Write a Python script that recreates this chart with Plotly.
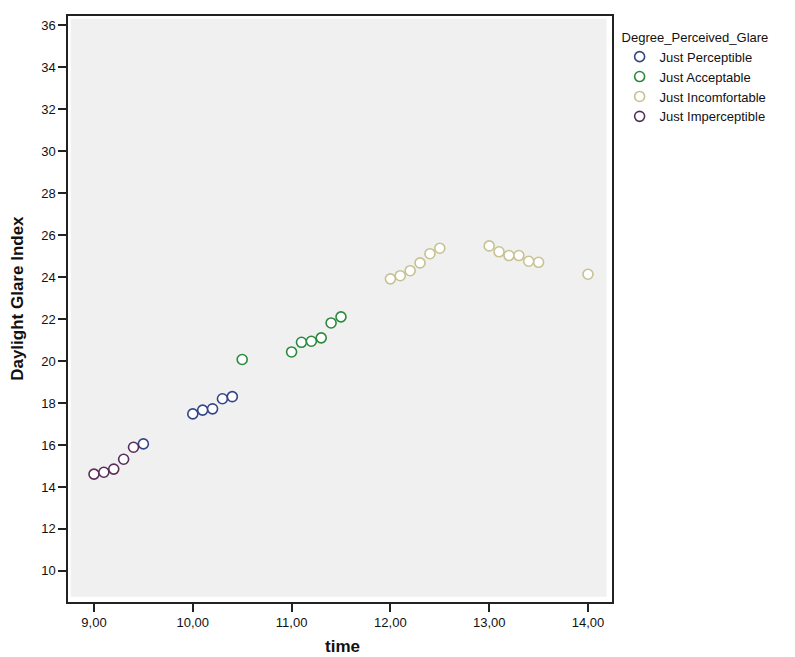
import plotly.graph_objects as go

# data
categories = ["Just Perceptible", "Just Acceptable", "Just Incomfortable", "Just Imperceptible"]

perceptible_time = [9.5, 10.0, 10.1, 10.2, 10.3, 10.4]
perceptible_dgi = [16.05, 17.48, 17.66, 17.72, 18.2, 18.3]

acceptable_time = [10.5, 11.0, 11.1, 11.2, 11.3, 11.4, 11.5]
acceptable_dgi = [20.07, 20.43, 20.89, 20.94, 21.1, 21.81, 22.1]

incomfortable_time = [12.0, 12.1, 12.2, 12.3, 12.4, 12.5, 13.0, 13.1, 13.2, 13.3, 13.4, 13.5, 14.0]
incomfortable_dgi = [23.91, 24.06, 24.3, 24.67, 25.11, 25.37, 25.48, 25.2, 25.02, 25.02, 24.75, 24.7, 24.13]

imperceptible_time = [9.0, 9.1, 9.2, 9.3, 9.4]
imperceptible_dgi = [14.61, 14.7, 14.85, 15.32, 15.89]

colors = ["#34468a", "#2a8a3c", "#c8c192", "#5a2c5c"]

series = [
    (perceptible_time, perceptible_dgi),
    (acceptable_time, acceptable_dgi),
    (incomfortable_time, incomfortable_dgi),
    (imperceptible_time, imperceptible_dgi),
]

fig = go.Figure()
for name, color, (xs, ys) in zip(categories, colors, series):
    fig.add_trace(go.Scatter(
        x=xs, y=ys, mode="markers", name=name,
        marker=dict(symbol="circle", size=10, color="white",
                    line=dict(color=color, width=1.6)),
    ))

# grey inner panel with a thin white inset, like the SPSS chart
fig.add_shape(type="rect", xref="x domain", yref="y domain",
              x0=0.005, x1=0.99, y0=0.009, y1=0.995,
              fillcolor="#f0f0f0", line=dict(width=0), layer="below")

# axis titles as annotations so they sit where SPSS puts them
fig.add_annotation(text="<b>time</b>", xref="paper", yref="paper",
                   x=0.504, y=-0.076, xanchor="center", yanchor="middle",
                   showarrow=False, font=dict(size=17, color="#111"))
fig.add_annotation(text="<b>Daylight Glare Index</b>", xref="paper", yref="paper",
                   x=-0.092, y=0.519, xanchor="center", yanchor="middle",
                   showarrow=False, textangle=-90,
                   font=dict(size=17, color="#111"))

# page body has an 8px margin, so the figure is 8px smaller than the window
fig.update_layout(
    width=787, height=649,
    margin=dict(l=60, r=183, t=8, b=55),
    paper_bgcolor="white", plot_bgcolor="white",
    separators=",.",
    font=dict(family="Liberation Sans, Arial, sans-serif", size=13, color="#111"),
    showlegend=True,
    legend=dict(
        x=1.014, y=0.985, xanchor="left", yanchor="top",
        title=dict(text="Degree_Perceived_Glare", font=dict(size=13, color="#111")),
        font=dict(size=13, color="#111"),
        itemwidth=30, tracegroupgap=0,
    ),
    xaxis=dict(
        range=[8.737, 14.243], tick0=9, dtick=1, tickformat=".2f",
        showgrid=False, zeroline=False, automargin=False,
        showline=True, mirror=True, linecolor="#222", linewidth=1.5,
        ticks="outside", ticklen=8, tickcolor="#222", tickwidth=1.5,
        tickfont=dict(size=13),
    ),
    yaxis=dict(
        range=[8.52, 36.43], tick0=10, dtick=2,
        showgrid=False, zeroline=False, automargin=False,
        showline=True, mirror=True, linecolor="#222", linewidth=1.5,
        ticks="outside", ticklen=8, tickcolor="#222", tickwidth=1.5,
        tickfont=dict(size=13),
    ),
)

fig.write_html("out.html")
